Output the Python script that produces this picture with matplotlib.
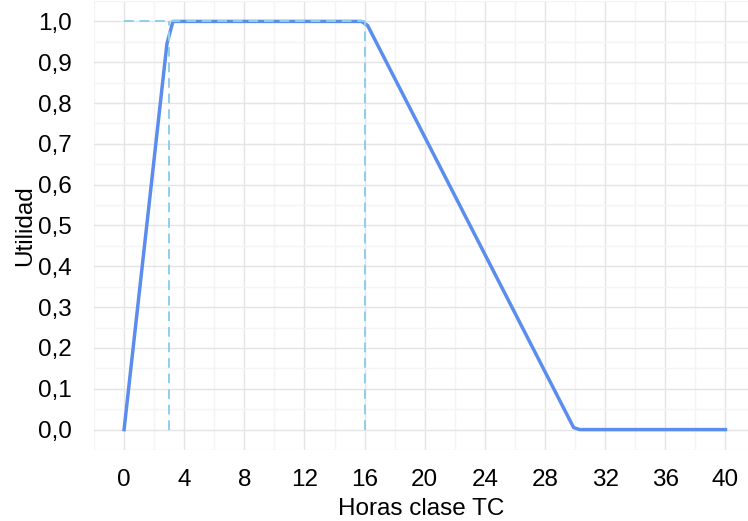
import matplotlib
matplotlib.use("Agg")
import matplotlib.pyplot as plt
from matplotlib.ticker import MultipleLocator, FuncFormatter

horas = [0, 2.85, 3.25, 15.8, 16.2, 29.9, 30.3, 40]
utilidad = [0, 0.945, 1.0, 1.0, 0.99, 0.005, 0.0, 0.0]

ref_x = [0, 3, 16]
ref_y = 1.0

plt.rcParams['font.family'] = ['Liberation Sans', 'DejaVu Sans']

fig = plt.figure(figsize=(7.48, 5.21), dpi=100)
ax = fig.add_axes([94 / 748, 71 / 521, 654 / 748, 449 / 521])

# reference dashed guides
ax.plot([ref_x[0], ref_x[2]], [ref_y, ref_y], color='#8ecfea', lw=1.4,
        ls=(0, (5, 3)), zorder=3)
for xv in ref_x[1:]:
    ax.plot([xv, xv], [0, ref_y], color='#8ecfea', lw=1.4,
            ls=(0, (5, 3)), zorder=3)

ax.plot(horas, utilidad, color='#5b8def', lw=2.5, zorder=2,
        solid_joinstyle='round')

ax.set_xlim(-2, 41.5)
ax.set_ylim(-0.05, 1.05)
ax.xaxis.set_major_locator(MultipleLocator(4))
ax.xaxis.set_minor_locator(MultipleLocator(2))
ax.yaxis.set_major_locator(MultipleLocator(0.1))
ax.yaxis.set_minor_locator(MultipleLocator(0.05))
ax.set_xticks(range(0, 41, 4))
ax.yaxis.set_major_formatter(FuncFormatter(lambda v, p: f"{v:.1f}".replace('.', ',')))

ax.grid(which='major', color='#e4e4e4', lw=1)
ax.grid(which='minor', color='#f4f4f4', lw=1)
ax.set_axisbelow(True)
for s in ax.spines.values():
    s.set_visible(False)
ax.tick_params(which='both', length=0, labelsize=17.5, labelcolor='#000000')
ax.tick_params(axis='x', pad=14)
ax.tick_params(axis='y', pad=16)

ax.set_xlabel('Horas clase TC', fontsize=17.5, color='#000000')
ax.set_ylabel('Utilidad', fontsize=17.5, color='#000000')
ax.xaxis.set_label_coords(0.5, -0.106)
ax.yaxis.set_label_coords(-0.088, 0.5)

fig.savefig('out.png', dpi=100)
